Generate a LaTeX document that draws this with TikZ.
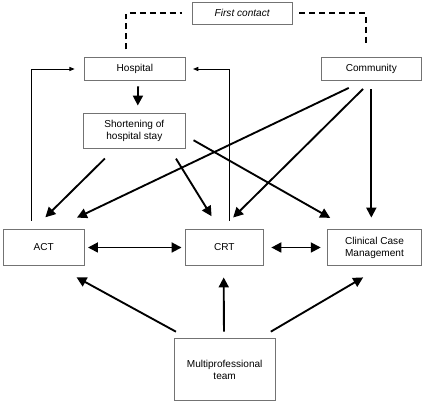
\documentclass[tikz,border=0pt]{standalone}
\usepackage{fontspec}
\setmainfont{Liberation Sans}
\usepackage{tikz}
\usetikzlibrary{arrows.meta}

\tikzset{
	box/.style={draw=black!55, line width=0.7pt, inner sep=0pt, align=center, font=\fontsize{8.6}{10.2}\selectfont},
	bigarrow/.style={line width=1.6pt, -{Triangle[length=8.5pt,width=8.5pt]}},
	bothways/.style={line width=1.6pt, {Triangle[length=8.5pt,width=8.5pt]}-{Triangle[length=8.5pt,width=8.5pt]}},
	thinarrow/.style={line width=0.75pt, -{Triangle[length=4.5pt,width=3.6pt]}},
	contact/.style={line width=1.6pt, dash pattern=on 5pt off 3.5pt},
}

\begin{document}
\begin{tikzpicture}
	\useasboundingbox (0,0) rectangle (12.75,12.12);
	\node[box, minimum width=3.01cm, minimum height=0.66cm] (first) at (7.265,11.72) {\itshape First contact};
	\node[box, minimum width=3.03cm, minimum height=0.68cm] (hosp) at (4.045,10.05) {Hospital};
	\node[box, minimum width=3.02cm, minimum height=0.68cm] (comm) at (11.14,10.05) {Community};
	\node[box, minimum width=3.06cm, minimum height=1.05cm] (short) at (4.03,8.196) {Shortening of\\hospital stay};
	\node[box, minimum width=2.43cm, minimum height=1.07cm] (act) at (1.313,4.695) {ACT};
	\node[box, minimum width=2.34cm, minimum height=1.07cm] (crt) at (6.729,4.695) {CRT};
	\node[box, minimum width=2.82cm, minimum height=1.07cm] (ccm) at (11.235,4.695) {Clinical Case\\Management};
	\node[box, minimum width=3.04cm, minimum height=1.87cm] (team) at (6.74,1.035) {Multiprofessional\\team};
	% first contact
	\draw[contact, shorten <=0.24cm, shorten >=0.3cm] ([xshift=-0.265cm]hosp.north) |- (first.west);
	\draw[contact, shorten <=0.2cm, shorten >=0.33cm] (first.east) -| ([xshift=-0.17cm]comm.north);
	% back to hospital
	\draw[thinarrow, shorten <=0.25cm, shorten >=0.28cm] ([xshift=-0.36cm]act.north) |- (hosp.west);
	\draw[thinarrow, shorten <=0.25cm, shorten >=0.22cm] ([xshift=0.15cm]crt.north) |- (hosp.east);
	% from hospital
	\draw[bigarrow, shorten <=0.17cm, shorten >=0.22cm] ([xshift=0.1cm]hosp.south) -- ([xshift=0.1cm]short.north);
	\draw[bigarrow, shorten <=0.42cm, shorten >=0.51cm] ([xshift=-0.585cm]short.south) -- ([xshift=-0.315cm]act.north);
	\draw[bigarrow, shorten <=0.35cm, shorten >=0.46cm] ([xshift=1.065cm]short.south) -- ([xshift=-0.14cm]crt.north);
	\draw[bigarrow, shorten <=0.27cm, shorten >=0.69cm] ([yshift=-0.15cm]short.east) -- ([xshift=-0.73cm]ccm.north);
	% from community
	\draw[bigarrow, shorten <=0.5cm, shorten >=0.81cm] ([xshift=-0.225cm]comm.south) -- ([xshift=0.265cm]act.north);
	\draw[bigarrow, shorten <=0.35cm, shorten >=0.5cm] (comm.south) -- ([xshift=-0.09cm]crt.north);
	\draw[bigarrow, shorten <=0.25cm, shorten >=0.35cm] (comm.south) -- (comm.south |- ccm.north);
	% between teams
	\draw[bothways, shorten <=0.1cm, shorten >=0.1cm] (act) -- (crt);
	\draw[bothways, shorten <=0.23cm, shorten >=0.19cm] (crt) -- (ccm);
	% from multiprofessional team
	\draw[bigarrow, shorten <=0.39cm, shorten >=0.72cm] ([xshift=-1.12cm]team.north) -- ([xshift=0.35cm]act.south);
	\draw[bigarrow, shorten <=0.19cm, shorten >=0.35cm] ([xshift=-0.02cm]team.north) -- ([xshift=-0.02cm]crt.south);
	\draw[bigarrow, shorten <=0.37cm, shorten >=0.69cm] ([xshift=1.065cm]team.north) -- ([xshift=0.255cm]ccm.south);
\end{tikzpicture}
\end{document}
